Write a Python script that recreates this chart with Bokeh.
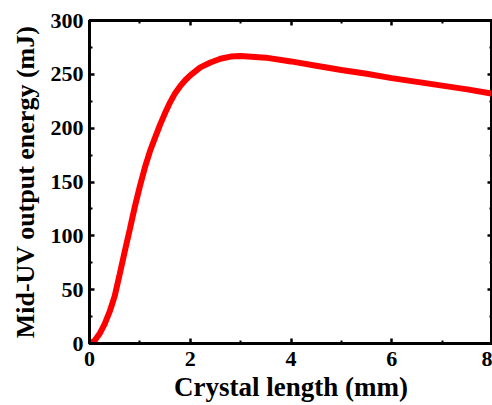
from bokeh.plotting import figure
from bokeh.models import LinearAxis, FixedTicker, Range1d
from bokeh.embed import file_html
from bokeh.resources import INLINE

# Data
crystal_length = [0, 0.1, 0.2, 0.3, 0.4, 0.5, 0.6, 0.7, 0.8, 0.9, 1.0, 1.1, 1.2, 1.3, 1.4,
                  1.5, 1.6, 1.7, 1.8, 1.9, 2.0, 2.2, 2.4, 2.6, 2.8, 3.0, 3.5, 4.0, 4.5,
                  5.0, 5.5, 6.0, 6.5, 7.0, 7.5, 8.0]
energy = [0, 2.5, 9, 18, 29.5, 44, 64.5, 85.5, 106, 127, 146, 163.5, 178.5, 191, 203,
          214, 224, 232.5, 239, 244.5, 249, 256.5, 261, 264.5, 266.5, 267, 265.5, 262, 258,
          254, 250.5, 246.5, 243, 239.5, 236, 232]

x_major = [0, 2, 4, 6, 8]
x_minor = [1, 3, 5, 7]
y_major = [0, 50, 100, 150, 200, 250, 300]
y_minor = [25, 75, 125, 175, 225, 275]

FONT = "Liberation Serif"

p = figure(width=492, height=405, output_backend="svg", toolbar_location=None,
           x_range=Range1d(0, 8), y_range=Range1d(0, 300),
           min_border_left=89, min_border_right=0, min_border_top=20, min_border_bottom=62)
p.background_fill_color = "white"
p.border_fill_color = "white"
p.outline_line_color = "black"
p.outline_line_width = 3
p.xgrid.visible = False
p.ygrid.visible = False

p.line(crystal_length, energy, line_color="#ff0000", line_width=6)


def style_axis(ax, major, minor, labels=True):
    ax.ticker = FixedTicker(ticks=major, minor_ticks=minor)
    ax.axis_line_color = "black"
    ax.axis_line_width = 3
    ax.major_tick_in = 5
    ax.major_tick_out = 0
    ax.minor_tick_in = 3
    ax.minor_tick_out = 0
    ax.major_tick_line_width = 2.5
    ax.minor_tick_line_width = 2
    ax.major_tick_line_color = "black"
    ax.minor_tick_line_color = "black"
    if labels:
        ax.major_label_text_font = FONT
        ax.major_label_text_font_style = "bold"
        ax.major_label_text_font_size = "22px"
        ax.major_label_text_color = "black"
        ax.axis_label_text_font = FONT
        ax.axis_label_text_font_style = "bold"
        ax.axis_label_text_font_size = "27px"
        ax.axis_label_text_color = "black"
    else:
        ax.major_label_overrides = {t: "" for t in major}
        ax.major_label_standoff = 0
        ax.axis_label = None


xa = p.xaxis[0]
style_axis(xa, x_major, x_minor)
xa.axis_label = "Crystal length (mm)"
xa.major_label_standoff = 8
xa.axis_label_standoff = 3

ya = p.yaxis[0]
style_axis(ya, y_major, y_minor)
ya.axis_label = "Mid-UV output energy (mJ)"
ya.axis_label_text_font_size = "26px"
ya.major_label_standoff = 6
ya.axis_label_standoff = 8

top = LinearAxis()
style_axis(top, x_major, x_minor, labels=False)
p.add_layout(top, "above")

right = LinearAxis()
style_axis(right, y_major, y_minor, labels=False)
p.add_layout(right, "right")

open("out.html", "w").write(file_html(p, INLINE))
